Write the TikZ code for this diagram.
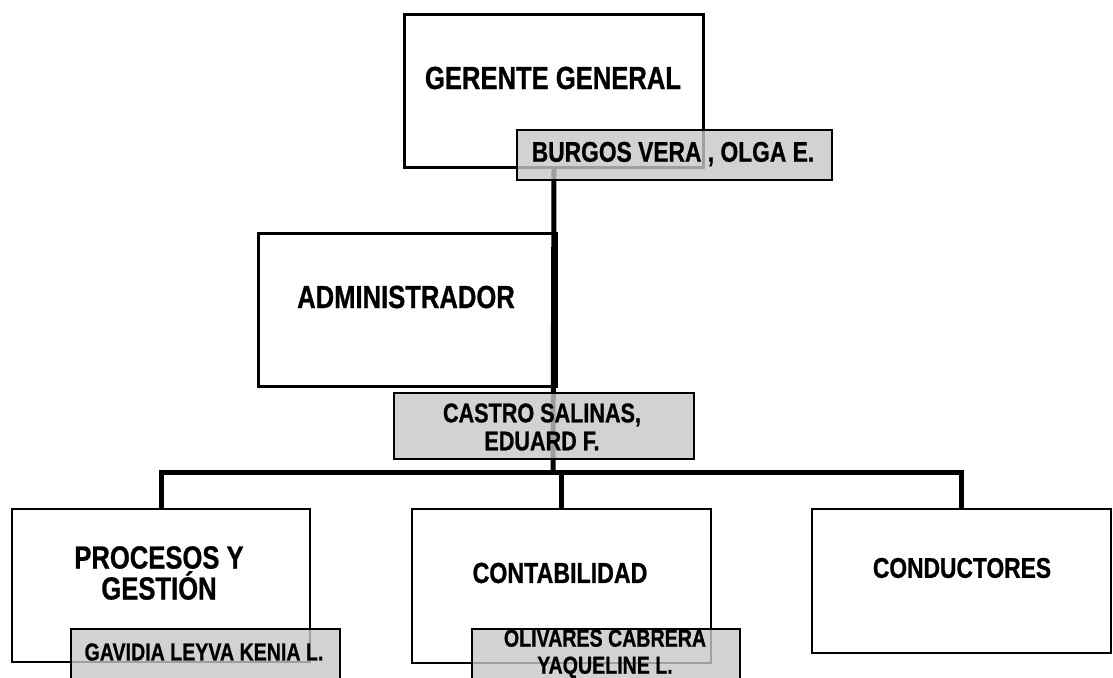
\documentclass[tikz,border=0pt]{standalone}
\usepackage{fontspec}
\setmainfont[FakeStretch=0.8, BoldFeatures={FakeBold=0.8}]{Liberation Sans}
\tikzset{
  cargo/.style={draw, line width=2pt, fill=white, inner sep=0pt, anchor=north west},
  nombre/.style={draw, line width=1.5pt, fill=black!22, fill opacity=0.8, text opacity=1, inner sep=0pt, anchor=north west},
  enlace/.style={line width=5pt},
  texto/.style={font=\bfseries, align=center, inner sep=0pt}
}
\begin{document}
\begin{tikzpicture}[x=1pt, y=-1pt]
  \useasboundingbox (0,0) rectangle (1113,677);
  % cajas de cargos
  \node[cargo, line width=3pt, minimum width=299pt, minimum height=153pt] (gerente) at (403,13) {};
  \node[cargo, line width=3pt, minimum width=298pt, minimum height=153pt] (admin) at (257,232) {};
  \node[cargo, minimum width=298pt, minimum height=153pt] (procesos) at (11,508) {};
  \node[cargo, minimum width=299pt, minimum height=154pt] (contabilidad) at (411,508) {};
  \node[cargo, minimum width=299pt, minimum height=144pt] (conductores) at (811,508) {};
  % conectores
  \coordinate (barra) at (553,472);
  \begin{scope}[enlace]
    \draw (gerente.south) -- (barra);
    \draw (procesos.north) |- (barra);
    \draw (conductores.north) |- (barra);
    \draw (contabilidad.north) -- (contabilidad.north |- barra);
  \end{scope}
  % nombres
  \node[nombre, minimum width=315pt, minimum height=50pt] (burgos) at (516,129) {};
  \node[nombre, minimum width=300pt, minimum height=66pt] (castro) at (393,392) {};
  \node[nombre, minimum width=269pt, minimum height=62pt] (gavidia) at (70,628) {};
  \node[nombre, minimum width=268pt, minimum height=62pt] (olivares) at (471,628) {};
  % textos
  \node[texto, font=\bfseries\fontsize{32}{33}\selectfont] (tgerente) at (553,78) {GERENTE GENERAL};
  \node[texto, font=\bfseries\fontsize{28.5}{30}\selectfont] (tburgos) at (673,154) {BURGOS VERA , OLGA E.};
  \node[texto, font=\bfseries\fontsize{32}{33}\selectfont] (tadmin) at (406,297) {ADMINISTRADOR};
  \node[texto, font=\bfseries\fontsize{27}{28}\selectfont] (tcastro) at (542,427) {CASTRO SALINAS,\\EDUARD F.};
  \node[texto, font=\bfseries\fontsize{32}{31}\selectfont] (tprocesos) at (159,573) {PROCESOS Y\\GESTIÓN};
  \node[texto, font=\bfseries\fontsize{24.5}{26}\selectfont] (tgavidia) at (204,652) {GAVIDIA LEYVA KENIA L.};
  \node[texto, font=\bfseries\fontsize{29}{30}\selectfont] (tcontabilidad) at (560,573) {CONTABILIDAD};
  \node[texto, font=\bfseries\fontsize{24.5}{27}\selectfont] (tolivares) at (605,654) {OLIVARES CABRERA\\YAQUELINE L.};
  \node[texto, font=\bfseries\fontsize{28.5}{30}\selectfont] (tconductores) at (962,568) {CONDUCTORES};
\end{tikzpicture}
\end{document}
